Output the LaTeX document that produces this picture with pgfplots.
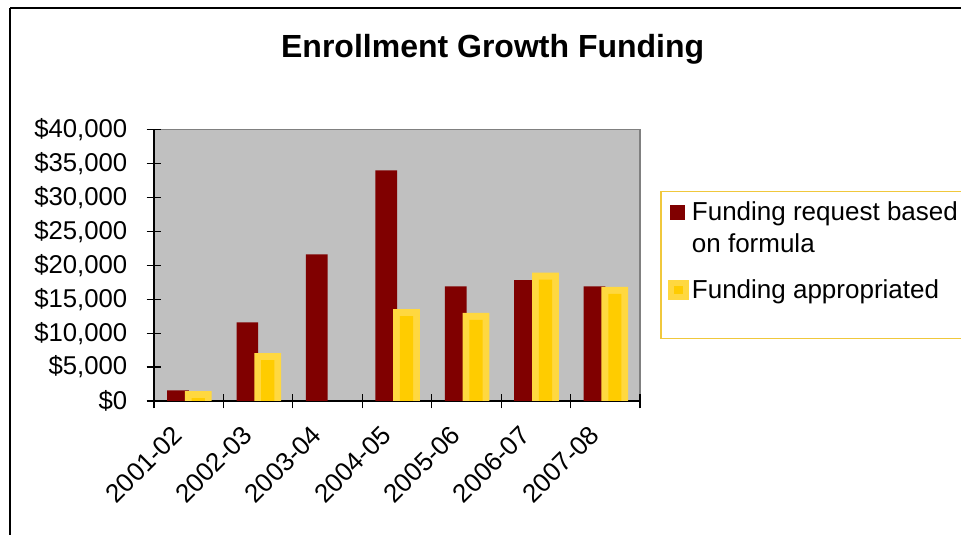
\documentclass[border=0pt]{standalone}
\usepackage{pgfplots}
\pgfplotsset{compat=1.18}
\usepackage{fontspec}
\setmainfont{Liberation Sans}
\definecolor{barred}{RGB}{128,0,0}
\definecolor{baryel}{RGB}{255,204,0}
\definecolor{baryellight}{RGB}{255,216,64}
\definecolor{plotgray}{RGB}{192,192,192}
\definecolor{framegray}{RGB}{128,128,128}
\definecolor{legframe}{RGB}{240,200,60}
\pgfplotstableread{
x y
0 1550
1 11600
2 21600
3 34000
4 16900
5 17800
6 16900
}\requested
\pgfplotstableread{
x y
0 1450
1 7050
3 13550
4 13000
5 18900
6 16800
}\appropriated
\begin{document}
\begin{tikzpicture}
\useasboundingbox (0,0) rectangle (720.75pt,401.25pt);
\draw[black, line width=1.5pt] (7.5pt,395.6pt) -- (7.5pt,-10pt);
\draw[black, line width=1.5pt] (7.5pt,395.6pt) -- (740pt,395.6pt);
\node[anchor=base, font=\bfseries\fontsize{24}{28}\selectfont, inner sep=0pt] at (369.5pt,358pt) {Enrollment Growth Funding};
\draw[legframe, line width=0.8pt] (495.75pt,257.3pt) rectangle (740pt,147.5pt);
\begin{axis}[
  at={(115.5pt,100.5pt)}, anchor=south west,
  scale only axis, width=364.5pt, height=203.6pt,
  xmin=-0.5, xmax=6.5, ymin=0, ymax=40000,
  scaled y ticks=false,
  axis lines*=left,
  axis line style={black, line width=1.3pt, -},
  axis background/.style={fill=plotgray, draw=framegray, line width=1.2pt},
  tick align=center,
  ytick={0,5000,10000,15000,20000,25000,30000,35000,40000},
  yticklabels={{\$0},{\$5,000},{\$10,000},{\$15,000},{\$20,000},{\$25,000},{\$30,000},{\$35,000},{\$40,000}},
  major tick length=11pt,
  minor tick length=11pt,
  ytick style={black, line width=0.9pt},
  xtick={0,1,2,3,4,5,6},
  xticklabels={2001-02,2002-03,2003-04,2004-05,2005-06,2006-07,2007-08},
  major x tick style={draw=none},
  minor xtick={-0.5,0.5,1.5,2.5,3.5,4.5,5.5,6.5},
  minor x tick style={black, line width=0.9pt},
  yticklabel style={font=\fontsize{19.3}{22}\selectfont, xshift=-11pt},
  xticklabel style={font=\fontsize{19.5}{22}\selectfont, xshift=-13pt, yshift=-6.7pt, rotate=45, anchor=north east},
  legend style={at={(1.0576,0.745)}, anchor=north west, draw=none, fill=none,
    font=\fontsize{19.5}{24}\selectfont, cells={anchor=west, align=left}, row sep=15pt, inner sep=0pt},
  legend cell align=left,
]
\addplot[ybar, bar width=0.3125, bar shift=-0.155, fill=barred, draw=none,
  legend image code/.code={\fill[barred] (0pt,6.4pt) rectangle (11.25pt,17.6pt);}]
  table[x=x,y=y] {\requested};
\addlegendentry{Funding request based\\on formula}
\addplot[ybar, bar width=0.385, bar shift=0.138, fill=baryellight, draw=none,
  legend image code/.code={\fill[baryellight] (-1pt,-7.5pt) rectangle (14.75pt,7.5pt);\fill[baryel] (3.5pt,-3pt) rectangle (10.25pt,3pt);}]
  table[x=x,y=y] {\appropriated};
\addlegendentry{Funding appropriated}
\addplot[ybar, bar width=0.19, bar shift=0.138, fill=baryel, draw=none, forget plot, yshift=-5.25pt]
  table[x=x,y=y] {\appropriated};
\end{axis}
\end{tikzpicture}
\end{document}
